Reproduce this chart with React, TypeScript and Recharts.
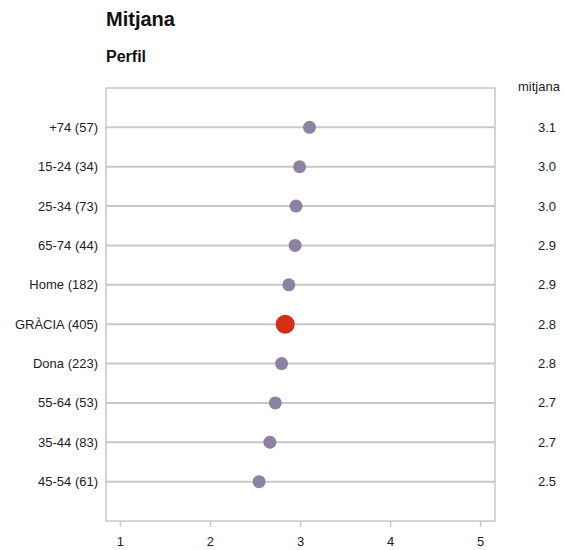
import { ScatterChart, Scatter, XAxis, YAxis, ReferenceArea, ReferenceLine, Cell } from 'recharts';

const categories = ['+74 (57)', '15-24 (34)', '25-34 (73)', '65-74 (44)', 'Home (182)', 'GRÀCIA (405)', 'Dona (223)', '55-64 (53)', '35-44 (83)', '45-54 (61)'];
const means = [3.1, 2.99, 2.95, 2.94, 2.87, 2.83, 2.79, 2.72, 2.66, 2.54];
const meanLabels = ['3.1', '3.0', '3.0', '2.9', '2.9', '2.8', '2.8', '2.7', '2.7', '2.5'];
const highlight = 'GRÀCIA (405)';
const xTicks = [1, 2, 3, 4, 5];

const FONT = '"Liberation Sans", Arial, sans-serif';
const GRID = '#c8c8c8';
const PURPLE = '#8d82a2';
const RED = '#d42f14';
const TEXT = '#222';

const rows = categories.map((c, i) => ({ name: c, row: i + 1, value: means[i], label: meanLabels[i] }));
const rowTicks = rows.map((r) => r.row);

function Dot(props: any) {
  const { cx, cy, payload } = props;
  const big = payload.name === highlight;
  return <circle cx={cx} cy={cy} r={big ? 9.5 : 6.5} fill={big ? RED : PURPLE} />;
}

// category on the left, rounded mean in the right-hand column
function RowTick(props: any) {
  const { x, y, payload } = props;
  const r = rows[payload.value - 1];
  if (!r) return null;
  return (
    <g>
      <text x={x} y={y} dy="0.35em" textAnchor="end" fontSize={13} fill={TEXT} fontFamily={FONT}>
        {r.name}
      </text>
      <text x={556} y={y} dy="0.35em" textAnchor="end" fontSize={13} fill={TEXT} fontFamily={FONT}>
        {r.label}
      </text>
    </g>
  );
}

export default function App() {
  return (
    <div style={{ position: 'absolute', left: 0, top: 0, width: 565, height: 550, background: '#fff', fontFamily: FONT }}>
      <div style={{ position: 'absolute', left: 106, top: 8, fontSize: 20, fontWeight: 'bold', color: '#111' }}>Mitjana</div>
      <div style={{ position: 'absolute', left: 106, top: 48, fontSize: 16, fontWeight: 'bold', color: '#111' }}>Perfil</div>
      <div style={{ position: 'absolute', left: 518, top: 79, fontSize: 13, color: TEXT }}>mitjana</div>
      <ScatterChart width={565} height={550} margin={{ top: 88, right: 70, bottom: 0, left: 0 }}>
        <XAxis
          type="number"
          dataKey="value"
          domain={[0.84, 5.16]}
          ticks={xTicks}
          allowDataOverflow
          axisLine={false}
          tickLine={{ stroke: GRID, strokeWidth: 1.5 }}
          tickSize={6}
          tickMargin={10}
          height={29}
          tick={{ fontSize: 13, fill: TEXT, fontFamily: FONT }}
        />
        <YAxis
          type="number"
          dataKey="row"
          domain={[0, 11]}
          reversed
          ticks={rowTicks}
          interval={0}
          axisLine={false}
          tickLine={false}
          tickSize={0}
          tickMargin={8}
          width={106}
          tick={<RowTick />}
        />
        <ReferenceArea x1={0.84} x2={5.16} y1={0} y2={11} fill="none" stroke={GRID} strokeWidth={1.5} />
        {rows.map((r) => (
          <ReferenceLine key={r.name} y={r.row} stroke={GRID} strokeWidth={2} />
        ))}
        <Scatter data={rows} shape={<Dot />} isAnimationActive={false}>
          {rows.map((r) => (
            <Cell key={r.name} fill={r.name === highlight ? RED : PURPLE} />
          ))}
        </Scatter>
      </ScatterChart>
    </div>
  );
}
